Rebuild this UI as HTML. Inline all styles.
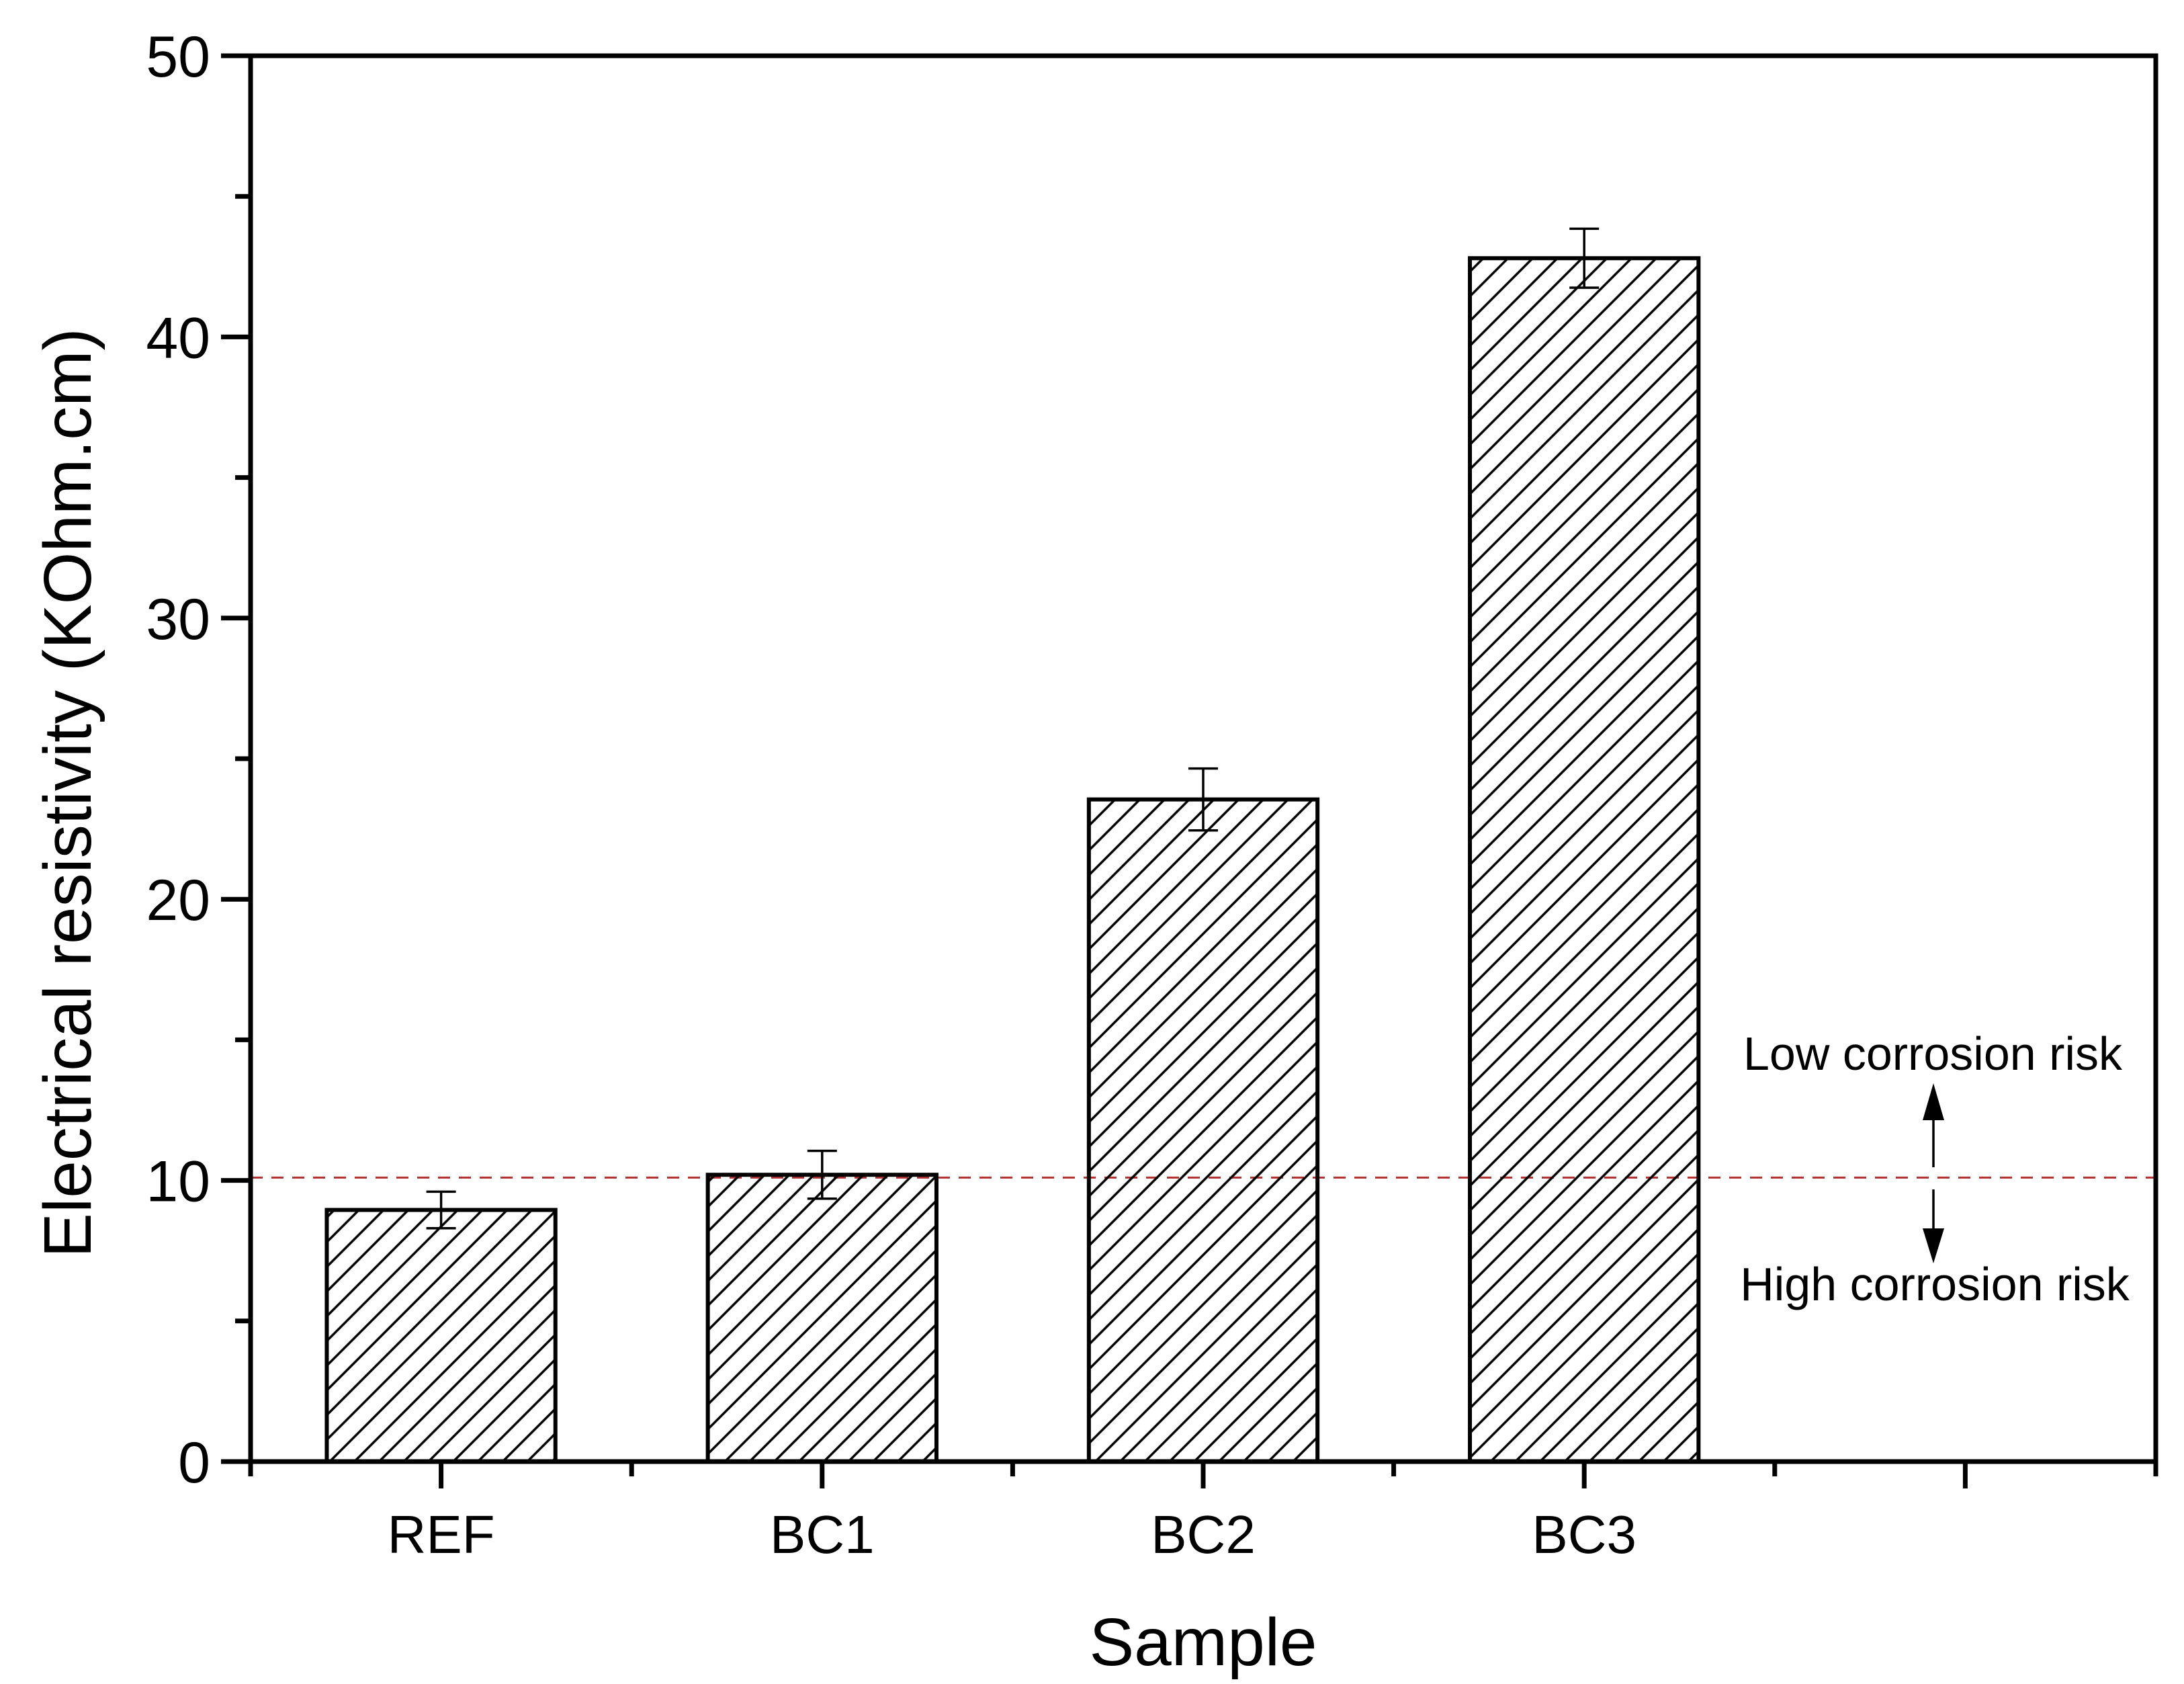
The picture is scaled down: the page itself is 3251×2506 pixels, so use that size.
<!DOCTYPE html>
<html><head><meta charset="utf-8"><style>
html,body{margin:0;padding:0;background:#fff;}
svg{display:block;font-family:"Liberation Sans",Arial,sans-serif;}
</style></head><body>
<svg id="chart" width="3251" height="2506" viewBox="0 0 3251 2506" xmlns="http://www.w3.org/2000/svg">
<defs>
<pattern id="hatch" patternUnits="userSpaceOnUse" width="26" height="26" patternTransform="rotate(45)">
<line x1="0" y1="0" x2="0" y2="26" stroke="#000" stroke-width="3.5" transform="translate(13,0)"/>
</pattern>
</defs>
<g id="plot"></g>
</svg>
<script>
const categories = ["REF","BC1","BC2","BC3"];
const values = [8.95, 10.2, 23.55, 42.8];
const errors = [0.65, 0.85, 1.1, 1.05];
const yTicks = [0,10,20,30,40,50];
const threshold = 10.1;

const X0=373, X1=3209, Y0=2175, Y1=83;
const xMin=0.5, xMax=5.5, yMin=0, yMax=50;
function sx(v){return X0+(v-xMin)/(xMax-xMin)*(X1-X0);}
function sy(v){return Y0-(v-yMin)/(yMax-yMin)*(Y0-Y1);}
const NS="http://www.w3.org/2000/svg";
const g=document.getElementById('plot');
function mk(tag,attrs,parent){const e=document.createElementNS(NS,tag);for(const k in attrs)e.setAttribute(k,attrs[k]);(parent||g).appendChild(e);return e;}

const th=mk('line',{x1:X0,x2:X1,y1:sy(threshold),y2:sy(threshold),stroke:'#b03030','stroke-width':3,'stroke-dasharray':'18 13'});



const bw=0.6;
categories.forEach((c,i)=>{
  const xc=i+1;
  const r=mk('rect',{x:sx(xc-bw/2),y:sy(values[i]),width:sx(xc+bw/2)-sx(xc-bw/2),height:sy(0)-sy(values[i]),fill:'url(#hatch)',stroke:'#000','stroke-width':6});
  
  
  const eg=mk('g',{stroke:'#000','stroke-width':3.5});
  
  
  const x=sx(xc), yt=sy(values[i]+errors[i]), yb=sy(values[i]-errors[i]);
  mk('line',{x1:x,x2:x,y1:yt,y2:yb},eg);
  mk('line',{x1:x-22,x2:x+22,y1:yt,y2:yt},eg);
  mk('line',{x1:x-22,x2:x+22,y1:yb,y2:yb},eg);
  const t=mk('text',{x:x,y:2311,'font-size':80,'text-anchor':'middle',fill:'#000'});
  t.textContent=c;
  
  
});

const ax=mk('g',{stroke:'#000','stroke-width':7,fill:'none'});


mk('rect',{x:X0,y:Y1,width:X1-X0,height:Y0-Y1},ax);
for(let v=0;v<=50;v+=5){
  const len=(v%10===0)?44:23;
  mk('line',{x1:X0-len,x2:X0,y1:sy(v),y2:sy(v)},ax);
}
yTicks.forEach(v=>{
  const t=mk('text',{x:X0-60,y:sy(v)+31,'font-size':86,'text-anchor':'end',fill:'#000'});
  t.textContent=v;
  
  
});
for(let v=0.5;v<=5.5;v+=0.5){
  const len=(Math.abs(v-Math.round(v))<0.01)?40:22;
  mk('line',{x1:sx(v),x2:sx(v),y1:Y0,y2:Y0+len},ax);
}

const xt=mk('text',{x:(X0+X1)/2,y:2478,'font-size':100,'text-anchor':'middle',fill:'#000'});
xt.textContent='Sample';


const yt=mk('text',{x:0,y:0,'font-size':100,'text-anchor':'middle',fill:'#000',transform:'translate(135,1180) rotate(-90)'});
yt.textContent='Electrical resistivity (KOhm.cm)';



const a1=mk('text',{x:2877,y:1592,'font-size':70,'text-anchor':'middle',fill:'#000'});
a1.textContent='Low corrosion risk';


const a2=mk('text',{x:2880,y:1935,'font-size':70,'text-anchor':'middle',fill:'#000'});
a2.textContent='High corrosion risk';


const ar=mk('g',{stroke:'#000','stroke-width':3.5,fill:'#000'});


mk('line',{x1:2878,x2:2878,y1:1660,y2:1737},ar);
mk('polygon',{points:'2878,1612 2862,1667 2894,1667',stroke:'none'},ar);
mk('line',{x1:2878,x2:2878,y1:1770,y2:1832},ar);
mk('polygon',{points:'2878,1880 2862,1828 2894,1828',stroke:'none'},ar);
</script>
</body></html>
